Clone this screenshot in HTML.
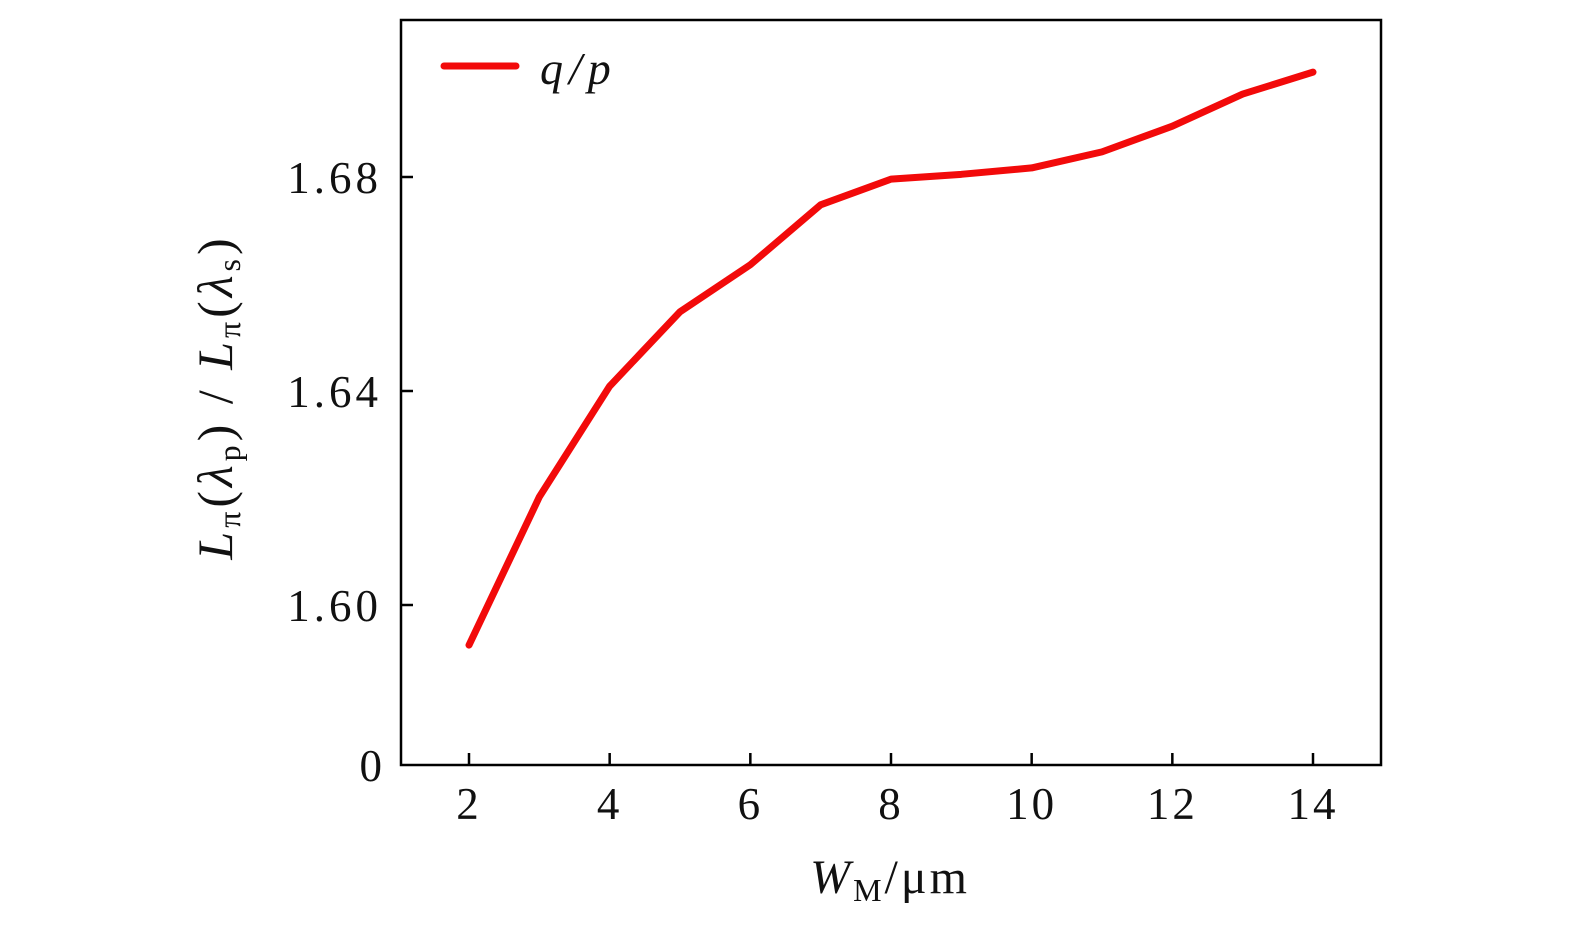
<!DOCTYPE html>
<html><head><meta charset="utf-8"><style>
body{margin:0;background:#fff;}
svg text{font-family:"Liberation Serif",serif;fill:#111;}
</style></head><body>
<svg id="chart" width="1575" height="935">
<rect x="401" y="20" width="980" height="745" fill="none" stroke="#000" stroke-width="2.5"/>
<g id="axes"></g>
<path id="series" fill="none" stroke="#f20a0a" stroke-width="7" stroke-linejoin="round" stroke-linecap="round"/>
<g>
<line x1="444" y1="66" x2="516" y2="66" stroke="#f20a0a" stroke-width="7" stroke-linecap="round"/>
<text x="540" y="84" font-size="46" font-style="italic" letter-spacing="6">q/p</text>
</g>
<text x="890" y="893" font-size="48" letter-spacing="3" text-anchor="middle"><tspan font-style="italic">W</tspan><tspan font-size="32" dy="8">M</tspan><tspan dy="-8">/μm</tspan></text>
<text transform="translate(232,397) rotate(-90)" font-size="50" letter-spacing="4" text-anchor="middle"><tspan font-style="italic">L</tspan><tspan font-size="32" dy="8">π</tspan><tspan dy="-8">(</tspan><tspan font-style="italic">λ</tspan><tspan font-size="32" dy="8">p</tspan><tspan dy="-8">) / </tspan><tspan font-style="italic">L</tspan><tspan font-size="32" dy="8">π</tspan><tspan dy="-8">(</tspan><tspan font-style="italic">λ</tspan><tspan font-size="32" dy="8">s</tspan><tspan dy="-8">)</tspan></text>
</svg>
<script>
const xValues=[2,3,4,5,6,7,8,9,10,11,12,13,14];
const yValues=[1.5925,1.6202,1.6409,1.6548,1.6636,1.6748,1.6796,1.6805,1.6817,1.6847,1.6895,1.6955,1.6996];
const xTicks=[2,4,6,8,10,12,14];
const yTicks=[1.60,1.64,1.68];
const yTickLabels=["1.60","1.64","1.68"];
const NS="http://www.w3.org/2000/svg";
function sx(v){return 469+(v-2)*(1313-469)/12;}
function sy(v){return 605-(v-1.60)*(214/0.04);}
const axes=document.getElementById('axes');
function mk(tag,attrs,txt){const e=document.createElementNS(NS,tag);for(const k in attrs)e.setAttribute(k,attrs[k]);if(txt!==undefined)e.textContent=txt;axes.appendChild(e);return e;}
xTicks.forEach(t=>{
 const l=mk('line',{x1:sx(t),x2:sx(t),y1:765,y2:753,stroke:'#000','stroke-width':2.5});
 
 
 const tx=mk('text',{x:sx(t),y:819,'font-size':45,'letter-spacing':3,'text-anchor':'middle'},String(t));
 
 
});
yTicks.forEach((t,i)=>{
 const l=mk('line',{x1:401,x2:413,y1:sy(t),y2:sy(t),stroke:'#000','stroke-width':2.5});
 
 
 const tx=mk('text',{x:382,y:sy(t)+16,'font-size':45,'letter-spacing':4,'text-anchor':'end'},yTickLabels[i]);
 
 
});
const z=mk('text',{x:382,y:781,'font-size':45,'text-anchor':'end'},"0");


document.getElementById('series').setAttribute('d',xValues.map((x,i)=>(i?'L':'M')+sx(x)+','+sy(yValues[i])).join(' '));
</script>
</body></html>
